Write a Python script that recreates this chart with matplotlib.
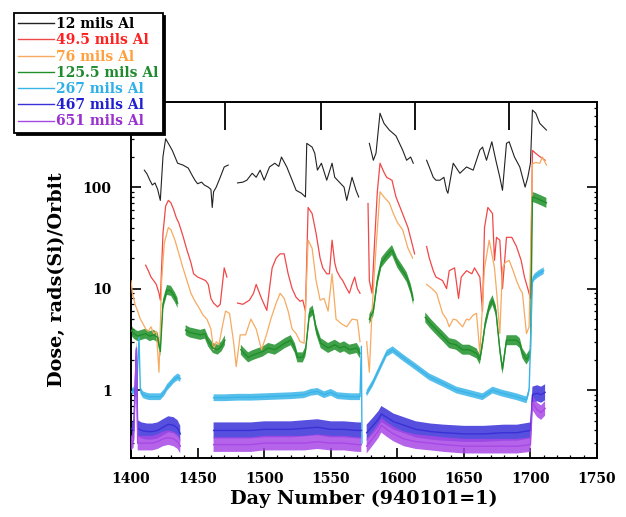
import numpy as np
import matplotlib
matplotlib.use('Agg')
import matplotlib.pyplot as plt
from matplotlib.ticker import MultipleLocator, LogLocator, NullFormatter, NullLocator, FixedLocator

nan = float('nan')

labels = ['12 mils Al', '49.5 mils Al', '76 mils Al', '125.5 mils Al',
          '267 mils Al', '467 mils Al', '651 mils Al']

black_days = [1410, 1412, 1414, 1416, 1418, 1420, 1422, 1424, 1426, 1428, 1431, 1435, 1439, 1443, 1446, 1448, 1450,
              1453, 1455, 1458, 1460, 1461, 1462, 1464, 1467, 1470, 1473, nan,
              1480, 1484, 1487, 1491, 1494, 1497, 1500, 1504, 1508, 1511, 1513, 1517, 1521, 1524, 1528, 1531, 1532,
              1536, 1538, 1540, 1543, 1547, 1551, 1553, 1557, 1560, 1562, 1566, 1569, 1571, nan,
              1579, 1582, 1584, 1587, 1590, 1594, 1599, 1604, 1607, 1610, 1612, nan,
              1622, 1624, 1627, 1629, 1632, 1635, 1637, 1638, 1642, 1647, 1652, 1657, 1662, 1664, 1667, 1671, 1674,
              1677, 1679, 1682, 1684, 1688, 1692, 1696, 1698, 1700, 1701.5, 1704, 1707, 1712]
black_vals = [147, 135, 118, 105, 110, 95, 74, 200, 300, 270, 230, 172, 165, 154, 130, 117, 108,
              112, 105, 100, 95, 63, 90, 100, 125, 158, 165, nan,
              110, 112, 117, 137, 125, 147, 117, 158, 172, 160, 198, 158, 117, 93, 87, 80, 270,
              248, 216, 147, 172, 117, 172, 125, 110, 100, 74, 125, 93, 80, nan,
              270, 184, 216, 535, 425, 365, 320, 232, 184, 198, 172, nan,
              184, 158, 125, 117, 117, 125, 93, 87, 172, 137, 158, 147, 232, 248, 184, 280, 184,
              125, 93, 270, 280, 198, 158, 100, 125, 172, 575, 535, 425, 365]

red_days = [1411, 1413, 1415, 1417, 1419, 1421, 1422, 1424, 1426, 1428, 1430, 1432, 1434, 1436, 1439, 1442, 1445,
            1447, 1450, 1453, 1456, 1458, 1460, 1462, 1465, 1467, 1470, 1472, nan,
            1480, 1484, 1489, 1492, 1494, 1498, 1502, 1504, 1506, 1509, 1512, 1515, 1518, 1521, 1524, 1527, 1529,
            1531, 1533, 1536, 1539, 1542, 1544, 1547, 1549, 1551, 1553, 1554.5, 1557, 1559, 1562, 1564, 1566, 1568,
            1570, 1572, nan,
            1578, 1579, 1581, 1583, 1585, 1587, 1590, 1592, 1596, 1599, 1603, 1608, 1611, 1613, nan,
            1622, 1624, 1627, 1629, 1634, 1637, 1639, 1643, 1646, 1648, 1652, 1656, 1658, 1662, 1664, 1665.5, 1668,
            1671.5, 1673, 1674.5, 1677, 1679, 1682, 1686, 1689.5, 1693, 1695.5, 1698, 1700, 1701.5, 1704, 1707, 1711]
red_vals = [17, 15, 13, 12, 11, 9, 7.7, 35, 65, 74, 70, 60, 50, 44, 33, 24, 18,
            14, 13, 12.5, 12, 11, 8, 7.2, 6.6, 7, 16, 13, nan,
            7.2, 7, 7.7, 9, 11, 8, 6.1, 10, 16, 20, 22, 22, 14, 10, 8.2, 7.5, 7.7,
            6, 63, 55, 35, 20, 16, 14, 14, 30, 18, 15, 13, 12, 10, 9, 11, 13,
            10, 9, nan,
            69, 12, 9, 30, 90, 172, 140, 125, 117, 80, 59, 40, 28, 22, nan,
            26, 20, 15, 13, 12, 10, 15, 16, 8, 13, 15, 14, 16, 13, 6, 40, 63,
            55, 19, 32, 30, 10, 32, 32, 26, 19, 13, 10, 8, 230, 215, 200, 184]

orange_days = [1400, 1401, 1403, 1405, 1407, 1409, 1411, 1413, 1415, 1417, 1419, 1421, 1423, 1425, 1428, 1430,
               1433, 1436, 1439, 1442, 1445, 1448, 1451, 1454, 1457, 1460, 1462, 1464, 1466, 1469, 1471, 1474,
               1477, 1479, 1482, 1486, 1490, 1494, 1498, 1502, 1505, 1509, 1512, 1515, 1518, 1521, 1524, 1527,
               1530, 1533, 1536, 1539, 1542, 1545, 1548, 1551, 1554, 1558, 1562, 1566, 1570, 1572, nan,
               1577, 1579, 1581, 1584, 1587, 1590, 1594, 1597, 1600, 1604, 1608, 1611.5, nan,
               1622, 1626, 1629.5, 1632, 1634, 1637, 1639, 1642, 1644.5, 1647, 1649, 1652, 1654, 1657, 1659.5,
               1662, 1665.5, 1669, 1671, 1673, 1675, 1677, 1679, 1681, 1684, 1687, 1689.5, 1692, 1694, 1697, 1699,
               1701.5, 1704, 1707, 1709, 1712]
orange_vals = [12, 9, 7, 6, 5, 4.5, 4, 3.8, 4.2, 3.6, 3.8, 1.5, 12, 28, 40, 38,
               30, 22, 16, 12, 9, 7.5, 6.5, 5.5, 5, 4, 2.5, 3, 2.8, 4.5, 6, 5.7,
               3, 1.7, 3.5, 3.5, 5, 4, 2.5, 3.6, 5, 7.2, 9, 8, 6, 4, 3.6, 3,
               2.9, 30, 25, 12, 7.7, 8, 6, 14, 5, 4.5, 4.2, 5, 4.9, 3, nan,
               3, 1.5, 6, 25, 90, 80, 70, 55, 45, 38, 25, 20, nan,
               11, 10, 9, 7, 5.7, 5, 4.2, 5, 4.9, 4.5, 4.2, 5, 4.9, 5.5, 5.7,
               2.3, 16, 30, 22, 16, 8, 3.6, 16, 18, 19, 15, 12, 10, 9, 3.6, 4.2,
               170, 175, 172, 198, 165]

green_days = [1400, 1402, 1405, 1408, 1411, 1414, 1417, 1420, 1422, 1424, 1427, 1430, 1433, 1435, nan,
              1441, 1444, 1448, 1452, 1455.5, 1458, 1461.5, 1465, 1468, 1470.5, nan,
              1482.5, 1485, 1488, 1491, 1495, 1499, 1503, 1508, 1512, 1515.5, 1520, 1523, 1525, 1529, 1531, 1534,
              1536.5, 1539, 1542.5, 1548, 1553, 1557, 1560, 1564, 1569.5, 1572, nan,
              1579, 1582, 1585, 1588, 1592, 1596, 1600, 1604, 1607, 1610, 1612, nan,
              1621, 1625, 1629.5, 1634, 1639, 1644, 1649, 1654, 1659.5, 1662, 1664, 1666, 1669, 1671.5, 1674, 1677,
              1679, 1682, 1686, 1689.5, 1692, 1694, 1697, 1700, 1701.5, 1704, 1708, 1712]
green_vals = [3.9, 3.6, 3.4, 3.5, 3.6, 3.4, 3.5, 3.3, 2.4, 7, 9.7, 9.5, 8.2, 7.2, nan,
              3.9, 3.7, 3.6, 3.5, 3.6, 3.0, 2.6, 2.5, 2.7, 3.1, nan,
              2.5, 2.3, 2.1, 2.2, 2.3, 2.4, 2.6, 2.5, 2.7, 2.9, 3.1, 2.6, 2.1, 2.1, 2.4, 5.7,
              6.1, 4, 2.9, 2.6, 2.8, 2.6, 2.7, 2.5, 2.6, 2.3, nan,
              5, 6, 12, 18, 21, 24, 18, 15, 13, 10, 7.7, nan,
              5.2, 4.5, 3.9, 3.4, 2.9, 2.8, 2.5, 2.5, 2.3, 2.0, 2.9, 4.5, 6.6, 7.7, 6.1, 2.5,
              1.6, 3.1, 3.1, 3.1, 2.9, 2.3, 2.0, 2.3, 80, 78, 74, 70]

cyan_days = [1400, 1402, 1404, 1406, 1407, 1409, 1412, 1414, 1418, 1422, 1425, 1427, 1430, 1432, 1435, 1437, nan,
             1462, 1470, 1480, 1490, 1500, 1510, 1520, 1530, 1535, 1540, 1545, 1550, 1555, 1560, 1565, 1572,
             1573, 1573.5, nan,
             1577, 1581.5, 1587, 1592, 1596.5, 1604, 1614.5, 1624, 1634, 1644.5, 1654, 1664, 1671.5, 1679, 1689.5,
             1697, 1699, 1701.5, 1703, 1706, 1710]
cyan_vals = [0.95, 1.0, 0.9, 3.3, 1.0, 0.9, 0.87, 0.86, 0.86, 0.86, 0.95, 1.06, 1.17, 1.26, 1.35, 1.3, nan,
             0.84, 0.84, 0.85, 0.85, 0.86, 0.87, 0.88, 0.9, 0.95, 0.97, 0.9, 0.95, 0.88, 0.87, 0.86, 0.86,
             2.7, 0.3, nan,
             0.93, 1.17, 1.67, 2.3, 2.5, 2.1, 1.67, 1.35, 1.17, 1.0, 0.93, 0.86, 1.0, 0.93, 0.86,
             0.8, 1.0, 12, 13, 14, 15]

blue_days = [1400, 1402, 1404, 1405, 1408, 1412, 1416, 1420, 1424, 1428, 1432, 1435, 1437, nan,
             1462, 1470, 1480, 1490, 1500, 1510, 1520, 1530, 1540, 1550, 1560, 1570, 1573, nan,
             1577, 1582, 1586, 1588, 1592, 1597, 1605, 1614, 1625, 1635, 1650, 1665, 1680, 1690, 1700,
             1701.5, 1705, 1708, 1711]
blue_vals = [0.42, 0.4, 2.5, 0.42, 0.4, 0.39, 0.39, 0.4, 0.43, 0.46, 0.45, 0.42, 0.37, nan,
             0.4, 0.4, 0.4, 0.4, 0.41, 0.41, 0.41, 0.42, 0.43, 0.41, 0.41, 0.4, 0.4, nan,
             0.38, 0.45, 0.52, 0.58, 0.54, 0.49, 0.45, 0.41, 0.39, 0.38, 0.37, 0.37, 0.38, 0.38, 0.4,
             0.9, 0.93, 0.9, 0.95]

purple_days = [1400, 1402, 1404, 1405, 1408, 1412, 1416, 1420, 1424, 1428, 1432, 1435, 1437, nan,
               1462, 1470, 1480, 1490, 1500, 1510, 1520, 1530, 1540, 1550, 1560, 1570, 1573, nan,
               1577, 1582, 1586, 1588, 1592, 1597, 1605, 1614, 1625, 1635, 1650, 1665, 1680, 1690, 1700,
               1701.5, 1705, 1708, 1711]
purple_vals = [0.3, 0.32, 2.6, 0.3, 0.3, 0.3, 0.3, 0.31, 0.33, 0.34, 0.33, 0.31, 0.28, nan,
               0.29, 0.29, 0.29, 0.29, 0.3, 0.3, 0.3, 0.3, 0.31, 0.3, 0.3, 0.29, 0.29, nan,
               0.28, 0.34, 0.4, 0.45, 0.41, 0.37, 0.33, 0.31, 0.3, 0.29, 0.28, 0.28, 0.28, 0.28, 0.29,
               0.75, 0.64, 0.6, 0.66]

series = [
    (black_days, black_vals, '#222222', '#000000', 0.8, 1.0),
    (red_days, red_vals, '#f04848', '#ff2020', 0.9, 1.0),
    (orange_days, orange_vals, '#f7aa60', '#ffa040', 0.9, 1.0),
    (green_days, green_vals, '#1f8f2a', '#208a30', 1.0, 1.12),
    (cyan_days, cyan_vals, '#3ab4e8', '#30b0e8', 1.0, 1.08),
    (blue_days, blue_vals, '#3a30d8', '#2020d0', 1.0, 1.2),
    (purple_days, purple_vals, '#a848e6', '#9a30d0', 1.0, 1.18),
]

serif = ['DejaVu Serif']

fig = plt.figure(figsize=(6.26, 5.17), dpi=100)
ax = fig.add_axes([0.2093, 0.1141, 0.7444, 0.6886])
ax.set_yscale('log')

handles = []
order = [6, 5, 4, 3, 2, 1, 0]
for idx in order:
    d, v, col, tcol, lw, band = series[idx]
    d = np.ma.masked_invalid(np.array(d, dtype=float))
    v = np.ma.masked_invalid(np.array(v, dtype=float))
    if band > 1.0:
        ax.fill_between(d, v / band, v * band, color=col, lw=0, alpha=0.85, zorder=2 + idx * 0.1)
    ax.plot(d, v, color=col, lw=lw, zorder=3 + idx * 0.1)

for idx in range(7):
    d, v, col, tcol, lw, band = series[idx]
    h, = ax.plot([], [], color=col, lw=1.0)
    handles.append(h)

ax.set_xlim(1400, 1750)
ax.set_ylim(0.214, 690)

ax.xaxis.set_major_locator(MultipleLocator(50))
ax.xaxis.set_minor_locator(MultipleLocator(10))
ax.yaxis.set_minor_locator(LogLocator(base=10, subs=np.arange(2, 10), numticks=20))
ax.yaxis.set_minor_formatter(NullFormatter())
ax.set_yticks([1, 10, 100])
ax.set_yticklabels(['1', '10', '100'])

ax.tick_params(which='major', direction='in', length=7.5, width=1.2, top=True, right=True)
ax.tick_params(which='minor', direction='in', length=2.5, width=0.9, top=True, right=True)
for s in ax.spines.values():
    s.set_linewidth(1.4)

for lab in ax.get_xticklabels() + ax.get_yticklabels():
    lab.set_fontfamily(serif)
    lab.set_fontweight('bold')
    lab.set_fontsize(10)
ax.tick_params(axis='x', pad=10)
ax.tick_params(axis='y', pad=14)

twin = ax.twiny()
twin.set_xlim(1400, 1750)
twin.xaxis.set_major_locator(FixedLocator([1470.5, 1542.5, 1613, 1684]))
twin.xaxis.set_minor_locator(NullLocator())
twin.tick_params(axis='x', which='major', direction='in', length=20, width=1.3, top=True, bottom=False,
                 labeltop=False, labelbottom=False)
for s in twin.spines.values():
    s.set_visible(False)

ax.set_xlabel('Day Number (940101=1)', fontfamily=serif, fontweight='bold', fontsize=13.8, labelpad=3)
ax.set_ylabel('Dose, rads(Si)/Orbit', fontfamily=serif, fontweight='bold', fontsize=13.8, labelpad=12)

leg = fig.legend(handles, labels, loc='upper left', bbox_to_anchor=(0.022, 0.975),
                 prop={'family': serif, 'weight': 'bold', 'size': 10},
                 handlelength=2.6, handletextpad=0.15, labelspacing=0.16, borderpad=0.3,
                 borderaxespad=0, fancybox=False, frameon=True,
                 shadow={'color': 'black', 'alpha': 1.0}, labelcolor=[s[3] for s in series])
leg.get_frame().set_edgecolor('black')
leg.get_frame().set_linewidth(1.3)
leg.set_zorder(10)

fig.savefig('out.png', dpi=100)
